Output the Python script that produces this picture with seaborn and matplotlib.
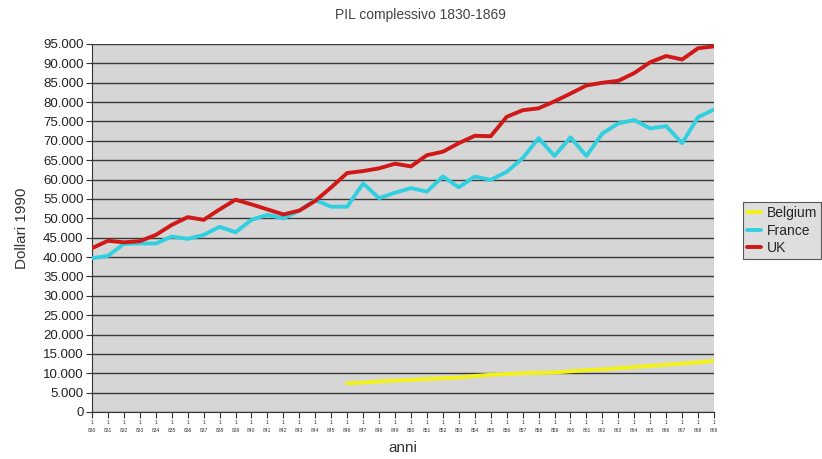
import matplotlib
matplotlib.use("Agg")
import matplotlib.pyplot as plt
import seaborn as sns
import pandas as pd

years = list(range(1830, 1870))

uk = [42300, 44200, 43800, 44100, 45700, 48300, 50300, 49600, 52300, 54800,
      53600, 52300, 51000, 52000, 54500, 58000, 61700, 62200, 62900, 64100,
      63400, 66300, 67200, 69400, 71300, 71200, 76200, 77900, 78400, 80200,
      82200, 84300, 85000, 85500, 87500, 90300, 91900, 91000, 93900, 94400]

france = [39700, 40300, 43400, 43500, 43500, 45300, 44700, 45700, 47800, 46400,
          49600, 50900, 50000, 52000, 54700, 53000, 53000, 59000, 55200, 56600,
          57800, 56900, 60800, 58000, 60800, 59900, 62000, 65500, 70700, 66100,
          70900, 66100, 71900, 74500, 75400, 73200, 73800, 69400, 76100, 78100]

belgium_years = list(range(1846, 1870))
belgium = [7400, 7600, 7900, 8100, 8300, 8500, 8700, 8900, 9300, 9600,
           9800, 10000, 10100, 10200, 10500, 10800, 11000, 11300, 11600, 11900,
           12200, 12500, 12800, 13200]

series_names = ["Belgium", "France", "UK"]
colors = {"Belgium": "#f2f21a", "France": "#30d0e0", "UK": "#d01818"}

yticks = list(range(0, 95001, 5000))
ytick_labels = ["0" if v == 0 else f"{v // 1000}.{v % 1000:03d}" for v in yticks]
xtick_labels = [f"{str(y)[0]}\n{str(y)[1:]}" for y in years]

df = pd.concat([
    pd.DataFrame({"anno": belgium_years, "valore": belgium, "paese": "Belgium"}),
    pd.DataFrame({"anno": years, "valore": france, "paese": "France"}),
    pd.DataFrame({"anno": years, "valore": uk, "paese": "UK"}),
])

sns.set_theme(style="white")
plt.rcParams["font.family"] = ["Liberation Sans", "DejaVu Sans"]

fig = plt.figure(figsize=(8.22, 4.59), dpi=100)
ax = fig.add_axes([92 / 822, 1 - 412 / 459, (714 - 92) / 822, (412 - 44) / 459])
ax.set_facecolor("#d6d6d6")

sns.lineplot(data=df, x="anno", y="valore", hue="paese", hue_order=series_names,
             palette=colors, linewidth=2.8, ax=ax, legend=True, zorder=3)

ax.set_xlim(years[0], years[-1])
ax.set_ylim(0, 95000)
ax.set_yticks(yticks)
ax.set_yticklabels(ytick_labels)
ax.set_xticks(years)
ax.set_xticklabels(xtick_labels, fontsize=3.6, linespacing=1.6, color="#333333")
ax.tick_params(axis="y", labelsize=9.5, length=4, width=0.8, color="#333333",
               labelcolor="#222222", left=True, pad=2)
ax.tick_params(axis="x", length=4, width=0.8, color="#333333", bottom=True, pad=2)

ax.grid(axis="y", color="#3a3a3a", linewidth=1.0, zorder=1)
ax.grid(axis="x", visible=False)
ax.set_axisbelow(True)
for side in ["top", "right"]:
    ax.spines[side].set_visible(False)
for side in ["left", "bottom"]:
    ax.spines[side].set_color("#333333")
    ax.spines[side].set_linewidth(0.8)

ax.set_xlabel("anni", fontsize=11, color="#333333")
ax.xaxis.set_label_coords(0.5, -0.078)
ax.set_ylabel("Dollari 1990", fontsize=11, color="#333333")
ax.yaxis.set_label_coords(-0.102, 0.5)

fig.text(420 / 822, 1 - 15 / 459, "PIL complessivo 1830-1869", ha="center", va="center",
         fontsize=10, color="#444444")

handles, labels = ax.get_legend_handles_labels()
leg = ax.legend(handles, labels, loc="upper left",
                bbox_to_anchor=(743 / 822, 1 - 202 / 459), bbox_transform=fig.transFigure,
                frameon=True, fancybox=False, fontsize=10, handlelength=1.0,
                handletextpad=0.4, borderpad=0.3, labelspacing=0.25, borderaxespad=0)
leg.get_frame().set_facecolor("#d6d6d6")
leg.get_frame().set_edgecolor("#333333")
leg.get_frame().set_linewidth(0.8)

fig.savefig("out.png", dpi=100, facecolor="white")
